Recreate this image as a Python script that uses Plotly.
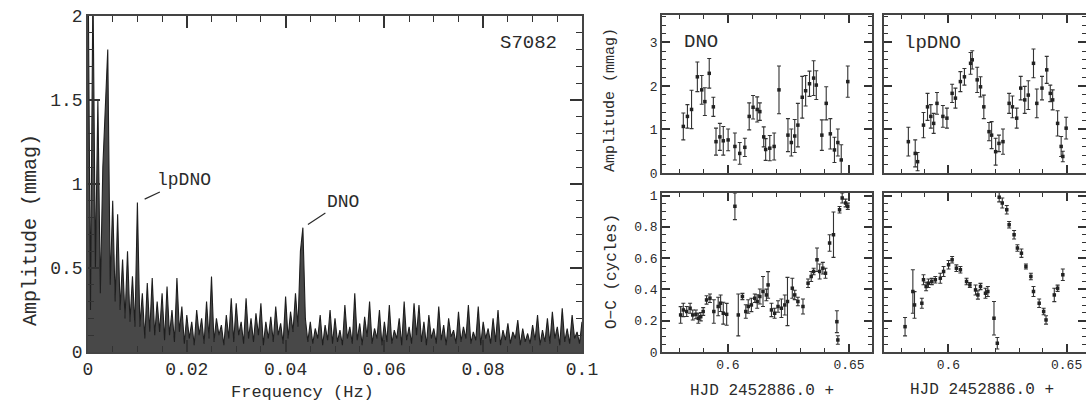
import plotly.graph_objects as go

# ---------------- data ----------------
FREQ_STEP_HZ = 0.0005
spec_amp = [
    2.4, 0.25, 2.2, 0.5, 1.5, 0.35, 1.1, 1.45, 1.8, 0.4,
    0.9, 0.3, 0.82, 0.25, 0.55, 0.2, 0.6, 0.18, 0.45, 0.15,
    0.89, 0.15, 0.35, 0.08, 0.41, 0.12, 0.44, 0.1, 0.3, 0.12,
    0.35, 0.07, 0.39, 0.1, 0.25, 0.06, 0.44, 0.12, 0.27, 0.05,
    0.22, 0.08, 0.18, 0.04, 0.25, 0.1, 0.2, 0.05, 0.3, 0.08,
    0.45, 0.06, 0.2, 0.1, 0.16, 0.04, 0.22, 0.08, 0.32, 0.06,
    0.29, 0.1, 0.18, 0.05, 0.32, 0.08, 0.2, 0.06, 0.23, 0.1,
    0.29, 0.04, 0.18, 0.08, 0.21, 0.06, 0.27, 0.1, 0.17, 0.05,
    0.33, 0.08, 0.24, 0.12, 0.35, 0.15, 0.6, 0.74, 0.2, 0.06,
    0.18, 0.05, 0.14, 0.08, 0.22, 0.04, 0.16, 0.07, 0.25, 0.05,
    0.2, 0.06, 0.13, 0.04, 0.28, 0.08, 0.15, 0.05, 0.35, 0.07,
    0.17, 0.04, 0.21, 0.09, 0.3, 0.05, 0.14, 0.08, 0.25, 0.04,
    0.18, 0.06, 0.28, 0.05, 0.13, 0.08, 0.2, 0.04, 0.3, 0.07,
    0.15, 0.05, 0.29, 0.1, 0.28, 0.06, 0.18, 0.04, 0.22, 0.08,
    0.14, 0.05, 0.27, 0.07, 0.16, 0.04, 0.2, 0.09, 0.13, 0.05,
    0.24, 0.06, 0.15, 0.08, 0.28, 0.05, 0.12, 0.07, 0.27, 0.04,
    0.18, 0.08, 0.14, 0.05, 0.2, 0.06, 0.25, 0.04, 0.13, 0.07,
    0.17, 0.05, 0.12, 0.08, 0.19, 0.04, 0.14, 0.06, 0.11, 0.05,
    0.16, 0.07, 0.22, 0.04, 0.13, 0.06, 0.2, 0.05, 0.24, 0.08,
    0.15, 0.04, 0.26, 0.06, 0.14, 0.05, 0.22, 0.08, 0.12, 0.05,
    0.18,
]
spec_freq = [i * FREQ_STEP_HZ for i in range(len(spec_amp))]

lpdno_peak = (0.0100, 0.89)
dno_peak = (0.0435, 0.74)

# DNO amplitude vs time
dno_amp_t = [0.5816, 0.5833, 0.5850, 0.5874, 0.5892, 0.5905, 0.5923, 0.5940, 0.5951, 0.5967,
             0.5981, 0.6001, 0.6029, 0.6049, 0.6070, 0.6088, 0.6104, 0.6121, 0.6132, 0.6148,
             0.6156, 0.6173, 0.6191, 0.6211, 0.6248, 0.6262, 0.6276, 0.6289, 0.6307, 0.6321,
             0.6337, 0.6354, 0.6365, 0.6388, 0.6406, 0.6423, 0.6440, 0.6454, 0.6468, 0.6495]
dno_amp = [1.07, 1.30, 1.46, 2.21, 1.91, 1.64, 2.29, 1.52, 0.72, 0.83,
           0.74, 0.76, 0.61, 0.45, 0.59, 1.30, 1.51, 1.46, 1.41, 0.83,
           0.54, 0.57, 0.61, 1.91, 0.87, 0.70, 0.85, 1.10, 1.74, 1.89,
           2.05, 2.18, 2.02, 0.87, 1.60, 0.90, 0.53, 0.70, 0.30, 2.10]
dno_amp_err = [0.31, 0.27, 0.44, 0.34, 0.33, 0.32, 0.34, 0.22, 0.31, 0.31,
               0.33, 0.25, 0.31, 0.25, 0.21, 0.31, 0.27, 0.29, 0.20, 0.23,
               0.25, 0.29, 0.31, 0.55, 0.38, 0.31, 0.38, 0.50, 0.48, 0.35,
               0.29, 0.40, 0.33, 0.35, 0.38, 0.35, 0.29, 0.31, 0.35, 0.36]

# lpDNO amplitude vs time
lp_amp_t = [0.5831, 0.5860, 0.5870, 0.5895, 0.5912, 0.5926, 0.5938, 0.5952, 0.5977, 0.5994,
            0.6016, 0.6030, 0.6051, 0.6068, 0.6094, 0.6101, 0.6122, 0.6136, 0.6150, 0.6172,
            0.6183, 0.6200, 0.6214, 0.6231, 0.6257, 0.6271, 0.6289, 0.6306, 0.6323, 0.6338,
            0.6360, 0.6374, 0.6396, 0.6416, 0.6431, 0.6441, 0.6462, 0.6477, 0.6484, 0.6498]
lp_amp = [0.72, 0.45, 0.26, 1.10, 1.52, 1.30, 1.14, 1.60, 1.30, 1.26,
          1.83, 1.72, 2.10, 2.21, 2.52, 2.60, 2.14, 1.98, 1.52, 0.95,
          0.87, 0.49, 0.68, 0.72, 1.60, 1.52, 1.26, 1.95, 1.68, 1.79,
          2.52, 1.60, 1.95, 2.37, 1.83, 1.68, 1.14, 0.61, 0.38, 1.03]
lp_amp_err = [0.33, 0.31, 0.21, 0.29, 0.31, 0.27, 0.23, 0.25, 0.25, 0.23,
              0.21, 0.23, 0.23, 0.19, 0.25, 0.21, 0.29, 0.23, 0.27, 0.21,
              0.31, 0.31, 0.19, 0.29, 0.23, 0.25, 0.23, 0.27, 0.31, 0.33,
              0.33, 0.33, 0.27, 0.31, 0.19, 0.23, 0.29, 0.23, 0.12, 0.25]

# DNO O-C vs time
dno_oc_t = [0.5805, 0.5816, 0.5830, 0.5844, 0.5855, 0.5868, 0.5878, 0.5888, 0.5898, 0.5912,
            0.5926, 0.5942, 0.5960, 0.5970, 0.5981, 0.5995, 0.6029, 0.6043, 0.6060, 0.6074,
            0.6084, 0.6097, 0.6111, 0.6121, 0.6132, 0.6145, 0.6159, 0.6166, 0.6180, 0.6193,
            0.6207, 0.6221, 0.6235, 0.6246, 0.6266, 0.6276, 0.6289, 0.6310, 0.6331, 0.6344,
            0.6354, 0.6368, 0.6379, 0.6392, 0.6403, 0.6420, 0.6436, 0.6450, 0.6454, 0.6461,
            0.6472, 0.6486, 0.6495]
dno_oc = [0.237, 0.269, 0.259, 0.280, 0.237, 0.241, 0.216, 0.226, 0.259, 0.333,
          0.344, 0.259, 0.291, 0.312, 0.248, 0.241, 0.932, 0.237, 0.355, 0.259,
          0.291, 0.301, 0.344, 0.323, 0.355, 0.387, 0.365, 0.429, 0.269, 0.248,
          0.291, 0.280, 0.301, 0.323, 0.408, 0.365, 0.323, 0.291, 0.440, 0.483,
          0.515, 0.590, 0.515, 0.536, 0.504, 0.697, 0.750, 0.194, 0.077, 0.910,
          0.985, 0.953, 0.932]
dno_oc_err = [0.053, 0.043, 0.032, 0.032, 0.032, 0.028, 0.032, 0.027, 0.025, 0.027,
              0.027, 0.075, 0.059, 0.053, 0.070, 0.070, 0.085, 0.134, 0.020, 0.043,
              0.043, 0.043, 0.027, 0.043, 0.048, 0.096, 0.037, 0.085, 0.043, 0.032,
              0.037, 0.059, 0.064, 0.154, 0.064, 0.030, 0.027, 0.048, 0.027, 0.032,
              0.021, 0.075, 0.048, 0.037, 0.032, 0.053, 0.145, 0.070, 0.027, 0.021,
              0.032, 0.025, 0.020]

# lpDNO O-C vs time
lp_oc_t = [0.5817, 0.5850, 0.5857, 0.5888, 0.5895, 0.5906, 0.5916, 0.5930, 0.5945, 0.5966,
           0.5980, 0.6001, 0.6016, 0.6034, 0.6051, 0.6077, 0.6091, 0.6115, 0.6125, 0.6136,
           0.6157, 0.6167, 0.6193, 0.6207, 0.6215, 0.6228, 0.6247, 0.6257, 0.6278, 0.6292,
           0.6309, 0.6328, 0.6349, 0.6360, 0.6384, 0.6403, 0.6413, 0.6448, 0.6462, 0.6484]
lp_oc = [0.162, 0.387, 0.301, 0.312, 0.462, 0.419, 0.440, 0.451, 0.462, 0.472,
         0.515, 0.558, 0.590, 0.536, 0.526, 0.451, 0.429, 0.397, 0.365, 0.419,
         0.376, 0.387, 0.216, 0.056, 0.990, 0.953, 0.910, 0.814, 0.750, 0.665,
         0.632, 0.547, 0.483, 0.387, 0.312, 0.259, 0.205, 0.365, 0.408, 0.494]
lp_oc_err = [0.059, 0.139, 0.085, 0.032, 0.032, 0.027, 0.027, 0.020, 0.021, 0.032,
             0.032, 0.027, 0.021, 0.021, 0.021, 0.021, 0.016, 0.032, 0.027, 0.020,
             0.032, 0.032, 0.107, 0.037, 0.030, 0.032, 0.027, 0.021, 0.027, 0.021,
             0.027, 0.016, 0.021, 0.032, 0.027, 0.021, 0.027, 0.043, 0.020, 0.037]

# ---------------- figure ----------------
W, H = 1086, 413
FONT = "Liberation Mono"
INK = "#2b2b2b"
AX = "#333333"

def px(x):
    return x / W

def py(y):
    return (H - y) / H

fig = go.Figure()

fig.add_trace(go.Scatter(x=spec_freq, y=spec_amp, mode="lines",
                         line=dict(color="#1e1e1e", width=1.1),
                         fill="tozeroy", fillcolor="rgba(40,40,40,0.85)",
                         xaxis="x", yaxis="y", showlegend=False))

def ebar(x, y, e, xa, ya):
    fig.add_trace(go.Scatter(
        x=x, y=y, mode="markers", xaxis=xa, yaxis=ya, showlegend=False,
        marker=dict(size=3.5, color="#222222", symbol="square"),
        error_y=dict(type="data", array=e, color="#333333", thickness=1.1, width=2)))

ebar(dno_amp_t, dno_amp, dno_amp_err, "x2", "y2")
ebar(lp_amp_t, lp_amp, lp_amp_err, "x3", "y3")
ebar(dno_oc_t, dno_oc, dno_oc_err, "x4", "y4")
ebar(lp_oc_t, lp_oc, lp_oc_err, "x5", "y5")


def axis(domain, rng, anchor, showlabels, fsize, dtick, minor_dtick, ticklen, minorlen, tick0=0.0):
    return dict(
        domain=domain, range=rng, anchor=anchor,
        showgrid=False, zeroline=False,
        showline=True, linecolor="#444444", linewidth=1.6, mirror="ticks",
        ticks="inside", ticklen=ticklen, tickwidth=1.5, tickcolor=AX,
        tick0=tick0, dtick=dtick,
        minor=dict(ticks="inside", ticklen=minorlen, tickwidth=1.2, tickcolor=AX,
                   tick0=tick0, dtick=minor_dtick, showgrid=False),
        showticklabels=showlabels,
        tickfont=dict(family=FONT, size=fsize, color=INK),
    )

LX = [px(88), px(582)]
LY = [py(352), py(16)]
C1 = [px(662), px(872)]
C2 = [px(884), 1.0]
TOP = [py(173), py(15)]
BOT = [py(352), py(193)]
R1 = [0.5728, 0.6595]
R2 = [0.5728, 0.6582]

fig.update_layout(
    template="none",
    width=W, height=H, margin=dict(l=0, r=0, t=0, b=0),
    paper_bgcolor="white", plot_bgcolor="white",
    xaxis=axis(LX, [0, 0.1], "y", True, 18, 0.02, 0.005, 12, 6),
    yaxis=axis(LY, [0, 2], "x", True, 18, 0.5, 0.1, 12, 6),
    xaxis2=axis(C1, R1, "y2", False, 13, 0.05, 0.01, 8, 4, tick0=0.6),
    yaxis2=axis(TOP, [0, 3.63], "x2", True, 13, 1, 0.2, 8, 4),
    xaxis3=axis(C2, R2, "y3", False, 13, 0.05, 0.01, 8, 4, tick0=0.6),
    yaxis3=axis(TOP, [0, 3.63], "x3", False, 13, 1, 0.2, 8, 4),
    xaxis4=axis(C1, R1, "y4", True, 13, 0.05, 0.01, 8, 4, tick0=0.6),
    yaxis4=axis(BOT, [0, 1.017], "x4", True, 13, 0.2, 0.05, 8, 4),
    xaxis5=axis(C2, R2, "y5", True, 13, 0.05, 0.01, 8, 4, tick0=0.6),
    yaxis5=axis(BOT, [0, 1.017], "x5", False, 13, 0.2, 0.05, 8, 4),
)

ann = []

def text(x, y, s, size, angle=0):
    ann.append(dict(x=px(x), y=py(y), xref="paper", yref="paper", text=s,
                    showarrow=False, textangle=angle, xanchor="center", yanchor="middle",
                    font=dict(family=FONT, size=size, color=INK)))

text(30, 230, "Amplitude (mmag)", 20, -90)
text(302, 392, "Frequency (Hz)", 17)
text(528, 43, "S7082", 19)
text(701, 42, "DNO", 19)
text(932, 43, "lpDNO", 19)
text(611, 100, "Amplitude (mmag)", 15, -90)
text(612, 272, "O\u2212C (cycles)", 16, -90)
text(762, 391, "HJD 2452886.0 +", 16)
text(982, 390, "HJD 2452886.0 +", 16)

ann.append(dict(x=lpdno_peak[0], y=lpdno_peak[1], xref="x", yref="y", text="lpDNO",
                showarrow=True, arrowhead=0, arrowwidth=1.2, arrowcolor=INK,
                ax=47, ay=-22, standoff=8,
                font=dict(family=FONT, size=18, color=INK)))
ann.append(dict(x=dno_peak[0], y=dno_peak[1], xref="x", yref="y", text="DNO",
                showarrow=True, arrowhead=0, arrowwidth=1.2, arrowcolor=INK,
                ax=40, ay=-26, standoff=6,
                font=dict(family=FONT, size=18, color=INK)))

fig.update_layout(annotations=ann)

fig.write_html("out.html")
